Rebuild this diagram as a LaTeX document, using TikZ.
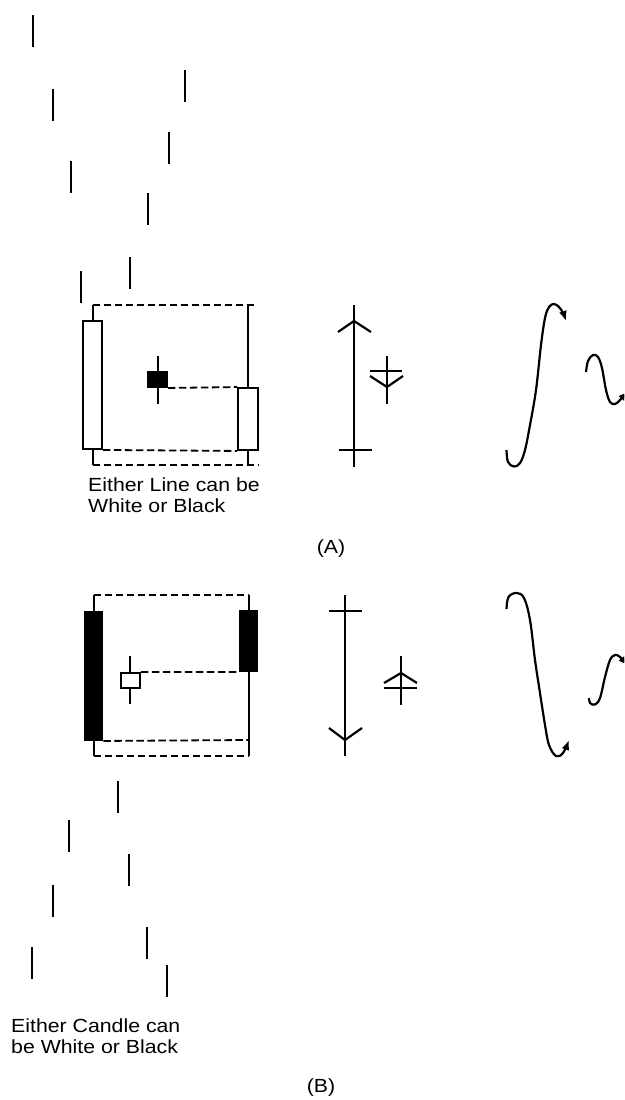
\documentclass[tikz,border=0pt]{standalone}
\usepackage{fontspec}
\newfontfamily\lblfont[FakeStretch=1.12]{Liberation Sans}
\usetikzlibrary{arrows.meta}

\begin{document}
\begin{tikzpicture}[x=1pt, y=-1pt,
        tickline/.style = {line width=2.3pt},
        wick/.style  = {line width=2pt},
        guide/.style = {line width=1.8pt, dash pattern=on 7.5pt off 3.5pt},
        body/.style  = {rectangle, draw, line width=1.9pt, inner sep=0pt,
                        minimum width=19pt},
        wbody/.style = {body, fill=white},
        bbody/.style = {body, fill=black},
        sym/.style   = {line width=2.2pt},
        swing/.style = {line width=2.2pt, -{Latex[length=10pt,width=8pt]}},
        lbl/.style   = {inner sep=0pt, align=left,
                        font=\lblfont\fontsize{19}{20.5}\selectfont}
    ]
    \clip (0,0) rectangle (624,1100);

    % ticks above (A)
    \foreach \x/\y in {33/15, 53/89, 71/161, 81/271, 185/70, 169/132, 148/193, 130/257}
        \draw[tickline] (\x,\y) -- ++(0,32);

    % (A) candles
    \draw[wick] (157.5,356) -- (157.5,404);
    \node[wbody, minimum height=128pt] (lA) at (92.5,385) {};
    \node[wbody, minimum width=20pt, minimum height=62pt] (rA) at (248,419) {};
    \node[bbody, minimum height=15pt] (sA) at (157.5,379.5) {};
    \draw[wick] (lA.north) -- (92.5,305);
    \draw[wick] (lA.south) -- (92.5,465);
    \draw[wick] (rA.north) -- (248,305);
    \draw[wick] (rA.south) -- (248,465);
    \draw[guide] (92.5,305) -- (257,305);
    \draw[guide] (92.5,465) -- (258,465);
    \draw[guide] (lA.south east) -- (rA.south west);
    \draw[guide] (sA.south east) -- (rA.north west);
    \node[lbl, anchor=north west] (noteA) at (88,478) {Either Line can be\\White or Black};

    % (A) symbols
    \draw[sym] (354,305) -- (354,467);
    \draw[sym] (338,332) -- (354,321) -- (371,332);
    \draw[sym] (339,450) -- (372,450);
    \draw[sym] (387,356) -- (387,404);
    \draw[sym] (370,371) -- (402,371);
    \draw[sym] (370,376) -- (387,387) -- (403,376);

    % (A) swings
    \draw[swing] plot[smooth, tension=0.6] coordinates {(506.5,450) (508,462) (514,466.5)
        (520,463) (525,450) (530,425) (536,390) (541,345) (545,318) (549,307) (554,304)
        (559,307) (563,313) (566,321)};
    \draw[swing] plot[smooth, tension=0.6] coordinates {(586,372) (588,361) (593,355)
        (598,357) (602,368) (606,390) (610,402) (615,404) (620,400) (628,391)};

    \node[lbl] (capA) at (331,549) {(A)};

    % (B) candles
    \draw[wick] (130,656) -- (130,704);
    \node[bbody, minimum width=18pt, minimum height=128pt] (lB) at (93.5,676) {};
    \node[bbody, minimum width=18pt, minimum height=60pt] (rB) at (248.5,641) {};
    \node[wbody, minimum height=15pt] (sB) at (130.5,680.5) {};
    \draw[wick] (lB.north) -- (93.5,595);
    \draw[wick] (lB.south) -- (93.5,756);
    \draw[wick] (rB.north) -- (248.5,595);
    \draw[wick] (rB.south) -- (248.5,756);
    \draw[guide] (93.5,595) -- (248.5,595);
    \draw[guide] (93.5,756) -- (248.5,756);
    \draw[guide] (lB.south east) -- (248.5,740);
    \draw[guide] (sB.north east) -- (rB.south west);

    % (B) symbols
    \draw[sym] (345,595) -- (345,756);
    \draw[sym] (329,611) -- (362,611);
    \draw[sym] (329,728) -- (345,740) -- (362,728);
    \draw[sym] (401,656) -- (401,705);
    \draw[sym] (384,683) -- (401,673) -- (417,683);
    \draw[sym] (384,688) -- (417,688);

    % (B) swings
    \draw[swing] plot[smooth, tension=0.6] coordinates {(506.5,609) (508.5,597) (516.5,593)
        (524,598) (530,620) (535,660) (540,693) (545,725) (549,745) (556,756) (563,753)
        (569,740)};
    \draw[swing] plot[smooth, tension=0.6] coordinates {(589,698) (590,703) (595,704.5)
        (600,698) (605,677) (610,660) (615,655) (620,657) (628,666)};

    % ticks below (B)
    \foreach \x/\y in {118/781, 69/820, 129/854, 53/885, 147/927, 32/947, 167/965}
        \draw[tickline] (\x,\y) -- ++(0,32);

    \node[lbl, anchor=north west] (noteB) at (11,1019) {Either Candle can\\be White or Black};
    \node[lbl] (capB) at (321,1088) {(B)};
\end{tikzpicture}
\end{document}
